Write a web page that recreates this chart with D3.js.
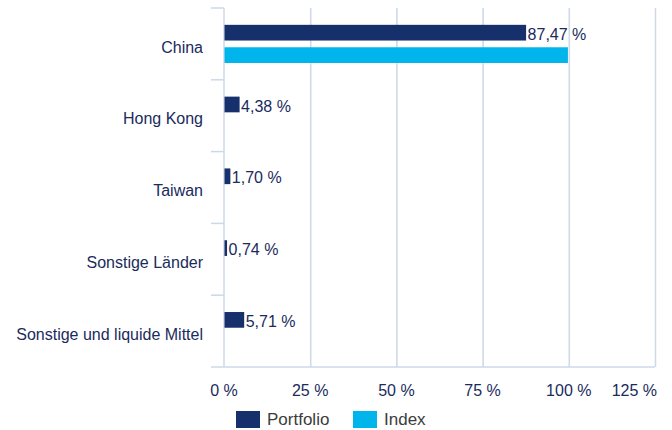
<!DOCTYPE html>
<html>
<head>
<meta charset="utf-8">
<script src="https://cdn.jsdelivr.net/npm/d3@7"></script>
<style>
  body { margin: 0; background: #fff; }
  svg { font-family: "Liberation Sans", Arial, sans-serif; }
</style>
</head>
<body>
<div id="chart"></div>
<script>
// data
const categories = ["China", "Hong Kong", "Taiwan", "Sonstige Länder", "Sonstige und liquide Mittel"];
const seriesNames = ["Portfolio", "Index"];
const portfolio = [87.47, 4.38, 1.70, 0.74, 5.71];
const index = [99.6, 0, 0, 0, 0];
const xTicks = [0, 25, 50, 75, 100, 125];

const colors = { Portfolio: "#15306b", Index: "#00b5eb" };
const gridColor = "#cdd8e8";
const textColor = "#1a2b5c";

const width = 672, height = 430;
const margin = { top: 8, right: 17, bottom: 63, left: 224 };

const svg = d3.select("#chart").append("svg")
  .attr("width", width)
  .attr("height", height);

const x = d3.scaleLinear()
  .domain([0, 125])
  .range([margin.left, width - margin.right]);

const y = d3.scaleBand()
  .domain(categories)
  .range([margin.top, height - margin.bottom]);

const sub = d3.scaleBand()
  .domain(seriesNames)
  .range([0, y.bandwidth()])
  .paddingOuter(0.75)
  .paddingInner(0.3);

// vertical gridlines
svg.append("g")
  .selectAll("line")
  .data(xTicks.slice(1))
  .join("line")
  .attr("x1", (d) => x(d) + 0.5)
  .attr("x2", (d) => x(d) + 0.5)
  .attr("y1", margin.top)
  .attr("y2", height - margin.bottom)
  .attr("stroke", gridColor)
  .attr("stroke-width", 1.5);

// y axis line and category separators
svg.append("line")
  .attr("x1", x(0)).attr("x2", x(0))
  .attr("y1", margin.top).attr("y2", height - margin.bottom)
  .attr("stroke", gridColor).attr("stroke-width", 1.5);

svg.append("g")
  .selectAll("line")
  .data(categories.map((c) => y(c)).concat([height - margin.bottom]))
  .join("line")
  .attr("x1", margin.left - 13)
  .attr("x2", (d, i) => (i === categories.length ? width - margin.right : margin.left))
  .attr("y1", (d) => d)
  .attr("y2", (d) => d)
  .attr("stroke", gridColor)
  .attr("stroke-width", 1.5);

// x tick labels
svg.append("g")
  .selectAll("text")
  .data(xTicks)
  .join("text")
  .attr("x", (d, i) => (i === xTicks.length - 1 ? x(d) + 2 : x(d)))
  .attr("y", height - margin.bottom + 29)
  .attr("text-anchor", (d, i) => (i === xTicks.length - 1 ? "end" : "middle"))
  .attr("fill", textColor)
  .style("font-size", "16px")
  .text((d) => d + " %");

// category labels
svg.append("g")
  .selectAll("text")
  .data(categories)
  .join("text")
  .attr("x", margin.left - 21)
  .attr("y", (d) => y(d) + y.bandwidth() / 2 + 3)
  .attr("dy", "0.35em")
  .attr("text-anchor", "end")
  .attr("fill", textColor)
  .style("font-size", "16px")
  .text((d) => d);

// bars
const rows = categories.map((c, i) => ({ cat: c, Portfolio: portfolio[i], Index: index[i] }));

const groups = svg.append("g")
  .selectAll("g")
  .data(rows)
  .join("g")
  .attr("transform", (d) => `translate(0,${y(d.cat)})`);

groups.selectAll("rect")
  .data((d) => seriesNames.map((s) => ({ s, v: d[s] })).filter((e) => e.v > 0))
  .join("rect")
  .attr("x", x(0) + 0.5)
  .attr("y", (d) => sub(d.s))
  .attr("width", (d) => x(d.v) - x(0))
  .attr("height", sub.bandwidth())
  .attr("fill", (d) => colors[d.s]);

// value labels on portfolio bars
groups.append("text")
  .attr("x", (d) => x(d.Portfolio) + 2)
  .attr("y", (d) => sub("Portfolio") + sub.bandwidth() / 2 + 1.5)
  .attr("dy", "0.35em")
  .attr("fill", textColor)
  .style("font-size", "16px")
  .text((d) => d3.format(".2f")(d.Portfolio).replace(".", ",") + " %");

// legend
const legend = svg.append("g")
  .attr("transform", `translate(236, ${height - 19})`);

const items = legend.selectAll("g")
  .data(seriesNames)
  .join("g")
  .attr("transform", (d, i) => `translate(${i * 117},0)`);

items.append("rect")
  .attr("width", 24)
  .attr("height", 17)
  .attr("fill", (d) => colors[d]);

items.append("text")
  .attr("x", 31)
  .attr("y", 8.5)
  .attr("dy", "0.35em")
  .attr("fill", "#3c3c3c")
  .style("font-size", "17px")
  .text((d) => d);
</script>
</body>
</html>
